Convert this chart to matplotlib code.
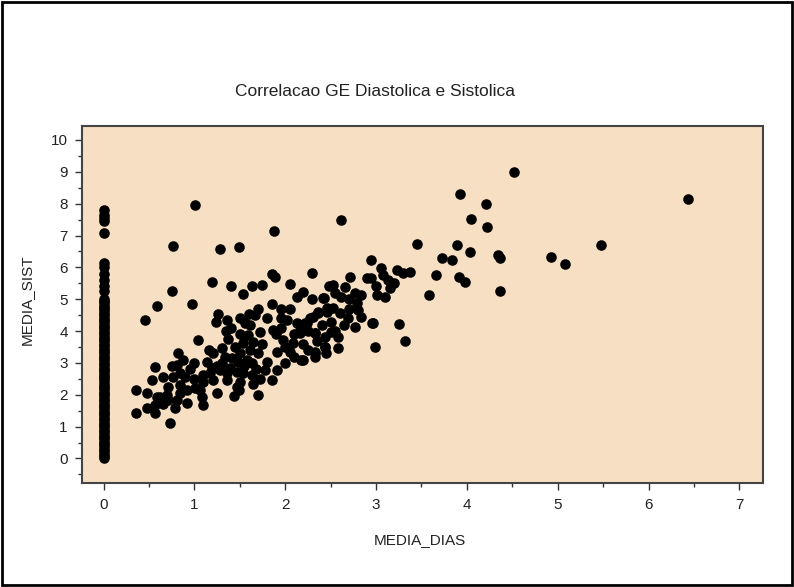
import matplotlib
matplotlib.use("Agg")
import matplotlib.pyplot as plt
from matplotlib.patches import Rectangle
from matplotlib.ticker import MultipleLocator

plt.rcParams['font.family'] = ['Liberation Sans', 'DejaVu Sans']

# Points with MEDIA_DIAS == 0 (vertical column)
zero_sist = [0.0, 0.08, 0.15, 0.22, 0.3, 0.38, 0.45, 0.52, 0.6, 0.68, 0.75, 0.82, 0.9,
             0.98, 1.05, 1.12, 1.2, 1.28, 1.35, 1.42, 1.5, 1.58, 1.65, 1.72, 1.8, 1.88,
             1.95, 2.02, 2.1, 2.18, 2.25, 2.32, 2.4, 2.48, 2.55, 2.62, 2.7, 2.78, 2.85,
             2.92, 3.0, 3.08, 3.15, 3.22, 3.3, 3.38, 3.45, 3.52, 3.6, 3.68, 3.75, 3.82,
             3.9, 3.98, 4.05, 4.12, 4.2, 4.28, 4.35, 4.42, 4.5, 4.58, 4.65, 4.72, 4.8,
             4.88, 4.95, 5.02, 5.25, 5.4, 5.6, 5.8, 6.0, 6.15, 7.08, 7.45, 7.55, 7.65, 7.8]

media_dias = [
    1.01, 0.76, 1.28, 1.49, 1.88, 0.75, 1.19, 1.40, 1.54, 1.63, 1.75, 1.85, 1.89, 2.05,
    2.29, 2.20, 2.13, 2.42, 2.48, 0.59, 0.46, 0.97, 1.86, 1.95, 2.43,
    1.26, 1.24, 1.36, 1.35, 1.04, 1.16, 1.37, 1.30, 1.34, 1.60, 1.67, 1.56, 1.61, 1.80,
    1.87, 1.72, 1.59, 1.54, 1.65, 1.61, 1.50, 1.58, 1.63, 1.48, 1.41, 1.39, 1.47, 1.54,
    1.63, 1.65, 1.70, 1.49, 1.44, 1.47, 1.80, 1.91, 1.85, 1.78, 1.98, 1.91, 2.05, 2.09,
    2.02, 2.13, 2.24, 2.16, 2.31, 2.36, 2.46, 2.33, 2.44, 2.44, 2.33, 2.33, 2.17,
    0.36, 0.36, 0.48, 0.57, 0.48, 0.53, 0.59, 0.57, 0.66, 0.71, 0.73, 0.71, 0.79, 0.81,
    0.82, 0.81, 0.77, 0.84, 0.84, 0.84, 0.92, 0.92, 0.90, 1.00, 1.01, 1.06, 1.08, 1.10,
    1.14, 1.10, 1.17, 1.21, 1.25, 1.19, 1.28, 1.36, 1.36, 0.57, 0.62,
    4.52, 3.92, 4.21, 4.05, 4.22, 2.61, 3.45, 3.89, 4.04, 3.73, 3.84, 4.34, 4.37, 3.66,
    3.91, 3.98, 3.58, 4.36, 2.95, 3.06, 3.08, 3.23, 3.30, 3.37, 3.13, 3.15, 3.10, 3.01,
    2.71, 2.90, 2.53, 2.66, 2.77, 2.84, 2.62, 2.79, 2.80, 2.84, 2.97, 2.77, 2.69,
    2.60, 2.53, 2.46, 2.36, 2.27, 2.22, 2.16, 2.33, 2.51, 2.58, 2.58, 2.44, 2.33, 2.20,
    2.99, 2.96, 3.25, 3.32, 2.95, 6.43, 5.48, 4.93, 5.08,
    1.45, 1.50, 1.70, 1.75, 1.90, 1.95, 2.00, 2.10, 2.20, 2.25, 2.40, 2.50, 2.55, 2.65,
    2.70, 1.30, 1.20, 1.25, 1.10, 1.00, 0.95, 0.70, 0.65, 0.75, 0.88, 1.50, 1.55, 1.68,
    1.72, 2.00, 2.10, 2.25, 2.45, 2.35, 1.40, 1.50, 1.70, 1.95, 2.05, 2.30, 2.55, 2.70,
    3.00, 3.20,
]
media_sist = [
    7.96, 6.67, 6.57, 6.63, 7.14, 5.26, 5.53, 5.43, 5.17, 5.42, 5.44, 5.79, 5.69, 5.47,
    5.81, 5.24, 5.06, 5.05, 5.43, 4.79, 4.35, 4.86, 4.85, 4.68, 5.03,
    4.54, 4.28, 4.35, 4.01, 3.72, 3.41, 3.75, 3.46, 3.20, 4.54, 4.51, 4.25, 4.19, 4.40,
    4.03, 3.98, 3.88, 3.62, 3.67, 3.41, 3.30, 3.09, 2.99, 3.04, 3.14, 2.83, 2.73, 2.67,
    2.62, 2.34, 1.99, 2.15, 1.96, 2.25, 3.04, 2.78, 2.46, 2.78, 3.72, 3.35, 3.35, 3.62,
    4.35, 4.25, 4.25, 3.93, 4.45, 4.61, 4.61, 3.93, 3.82, 3.51, 3.30, 3.20, 3.09,
    2.15, 1.44, 1.58, 1.42, 2.05, 2.46, 1.94, 2.88, 2.57, 2.25, 1.11, 1.84, 1.58, 1.84,
    3.30, 2.94, 2.57, 2.67, 2.31, 2.05, 1.73, 2.15, 2.57, 2.99, 2.20, 2.15, 1.94, 1.68,
    3.04, 2.62, 2.67, 2.46, 2.05, 2.83, 2.78, 2.46, 2.67, 1.68, 1.94,
    8.98, 8.31, 8.00, 7.51, 7.27, 7.50, 6.73, 6.71, 6.49, 6.30, 6.23, 6.40, 6.30, 5.77,
    5.69, 5.54, 5.13, 5.26, 6.23, 5.97, 5.76, 5.92, 5.81, 5.86, 5.60, 5.34, 5.08, 5.13,
    5.71, 5.66, 5.45, 5.39, 5.19, 5.13, 5.08, 4.87, 4.66, 4.45, 4.25, 4.14, 4.40,
    4.56, 4.72, 4.72, 4.56, 4.40, 4.25, 4.03, 3.93, 3.98, 3.82, 3.46, 3.51, 3.35, 3.09,
    3.51, 4.26, 4.22, 3.70, 5.66, 8.15, 6.70, 6.34, 6.12,
    3.50, 3.90, 3.30, 3.60, 3.90, 4.10, 3.50, 3.90, 3.60, 4.00, 4.20, 4.30, 4.00, 4.20,
    4.70, 3.00, 3.30, 2.90, 2.40, 2.50, 2.80, 2.00, 1.70, 2.90, 3.10, 2.40, 2.90, 2.80,
    2.50, 3.00, 3.20, 3.40, 3.30, 3.70, 4.10, 4.40, 4.70, 4.40, 4.70, 5.00, 5.20, 5.00,
    5.40, 5.50,
]

x_ticks = [0, 1, 2, 3, 4, 5, 6, 7]
y_ticks = [0, 1, 2, 3, 4, 5, 6, 7, 8, 9, 10]

fig = plt.figure(figsize=(7.94, 5.87), dpi=100)
fig.patch.set_facecolor('white')
fig.add_artist(Rectangle((0.003, 0.004), 0.994, 0.992, transform=fig.transFigure,
                         fill=False, edgecolor='black', linewidth=2))

ax = fig.add_axes([0.1029, 0.1772, 0.858, 0.6082])
ax.set_facecolor('#F7DFC3')
ax.scatter([0] * len(zero_sist), zero_sist, s=58, color='black', linewidths=0, zorder=3)
ax.scatter(media_dias, media_sist, s=58, color='black', linewidths=0, zorder=3)

ax.set_xlim(-0.24, 7.26)
ax.set_ylim(-0.77, 10.44)
ax.set_xticks(x_ticks)
ax.set_yticks(y_ticks)
ax.xaxis.set_minor_locator(MultipleLocator(0.5))
ax.yaxis.set_minor_locator(MultipleLocator(0.5))
ax.tick_params(axis='both', which='major', direction='out', length=5, width=1,
               color='#333333', labelsize=11, labelcolor='#222222', pad=5)
ax.tick_params(axis='both', which='minor', direction='out', length=3, width=1, color='#333333')
ax.tick_params(axis='x', pad=6)
for sp in ax.spines.values():
    sp.set_color('#444444')
    sp.set_linewidth(1.5)

fig.text(375 / 794, 1 - 91 / 587, 'Correlacao GE Diastolica e Sistolica', ha='center',
         va='center', fontsize=12.5, color='#222222')
fig.text(420 / 794, 1 - 540 / 587, 'MEDIA_DIAS', ha='center', va='center', fontsize=11,
         color='#222222')
fig.text(27 / 794, 1 - 300 / 587, 'MEDIA_SIST', ha='center', va='center', fontsize=11,
         rotation=90, color='#222222')

fig.savefig('out.png', dpi=100)
